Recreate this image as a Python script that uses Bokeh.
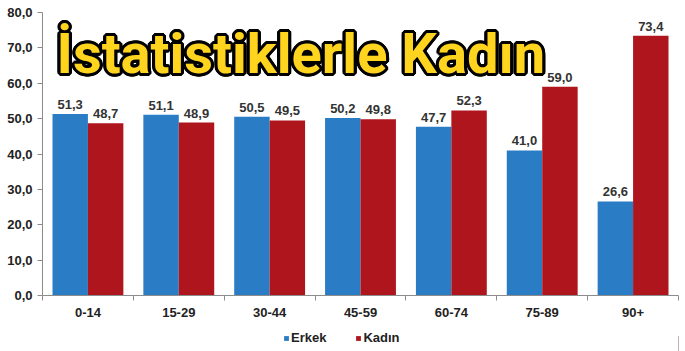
import numpy as np
from bokeh.plotting import figure
from bokeh.layouts import column
from bokeh.models import (ColumnDataSource, Range1d, FixedTicker, CustomJSTickFormatter,
                          Label, LabelSet, Legend, LegendItem)
from bokeh.core.properties import value
from bokeh.transform import dodge
from bokeh.embed import file_html
from bokeh.resources import INLINE

categories = ["0-14", "15-29", "30-44", "45-59", "60-74", "75-89", "90+"]
erkek = [51.3, 51.1, 50.5, 50.2, 47.7, 41.0, 26.6]
kadin = [48.7, 48.9, 49.5, 49.8, 52.3, 59.0, 73.4]
y_ticks = [0, 10, 20, 30, 40, 50, 60, 70, 80]
series_names = ["Erkek", "Kadın"]
title_text = "İstatistiklerle Kadın"

BLUE = "#2A7DC4"
RED = "#AF151C"

def fmt(v):
    return f"{v:.1f}".replace(".", ",")

xpos = np.arange(len(categories)) + 0.5
src = ColumnDataSource(dict(
    x=xpos, erkek=erkek, kadin=kadin,
    erkek_lbl=[fmt(v) for v in erkek], kadin_lbl=[fmt(v) for v in kadin],
))

p = figure(width=685, height=320, output_backend="svg", toolbar_location=None,
           x_range=Range1d(0, len(categories)), y_range=Range1d(0, 80),
           min_border_left=42, min_border_right=7, min_border_top=12, min_border_bottom=25)
p.outline_line_color = None
p.grid.visible = False
p.background_fill_color = "white"
p.border_fill_color = "white"

W = 0.39
rb = p.vbar(x=dodge("x", -W / 2), top="erkek", width=W, source=src, fill_color=BLUE, line_color=None)
rr = p.vbar(x=dodge("x", W / 2), top="kadin", width=W, source=src, fill_color=RED, line_color=None)

for col, ycol, off in (("erkek_lbl", "erkek", -W / 2), ("kadin_lbl", "kadin", W / 2)):
    ls = LabelSet(x=dodge("x", off), y=ycol, text=col, source=src, text_align="center",
                  text_baseline="bottom", y_offset=5, text_font=value("Liberation Sans"),
                  text_font_style="bold", text_font_size="13px", text_color="#333333")
    p.add_layout(ls)

# axes
xa = p.xaxis[0]
xa.ticker = FixedTicker(ticks=list(xpos), minor_ticks=list(range(len(categories) + 1)))
xa.major_label_overrides = {float(x): c for x, c in zip(xpos, categories)}
xa.major_tick_out = 0
xa.major_tick_in = 0
xa.minor_tick_out = 5
xa.minor_tick_in = 0
xa.axis_line_color = "#8c8c8c"
xa.minor_tick_line_color = "#8c8c8c"
xa.major_label_text_font = "Liberation Sans"
xa.major_label_text_font_style = "bold"
xa.major_label_text_font_size = "13px"
xa.major_label_text_color = "#222222"
xa.major_label_standoff = 7

ya = p.yaxis[0]
ya.ticker = FixedTicker(ticks=y_ticks, minor_ticks=[])
ya.formatter = CustomJSTickFormatter(code="return tick.toFixed(1).replace('.', ',');")
ya.major_tick_out = 5
ya.major_tick_in = 0
ya.minor_tick_out = 0
ya.axis_line_color = "#8c8c8c"
ya.major_tick_line_color = "#8c8c8c"
ya.major_label_text_font = "Liberation Sans"
ya.major_label_text_font_style = "bold"
ya.major_label_text_font_size = "13px"
ya.major_label_text_color = "#222222"
ya.major_label_standoff = 5

# title with black outline
tx, ty = 14, 209
TF = "Roboto"
TS = "56px"
for dx, dy in [(-3, 0), (3, 0), (0, -3), (0, 3), (-2, -2), (2, -2), (-2, 2), (2, 2),
               (-3, -1), (3, 1), (-1, 3), (1, -3), (-3, 1), (3, -1), (1, 3), (-1, -3)]:
    p.add_layout(Label(x=tx + dx, y=ty + dy, x_units="screen", y_units="screen", text=title_text,
                       text_font=TF, text_font_style="bold",
                       text_font_size=TS, text_color="black", text_baseline="bottom"))
p.add_layout(Label(x=tx, y=ty, x_units="screen", y_units="screen", text=title_text,
                   text_font=TF, text_font_style="bold",
                   text_font_size=TS, text_color="#FFD41E", text_baseline="bottom"))

# legend strip below the chart (its frame is aligned with the chart's frame)
p2 = figure(width=685, height=31, output_backend="svg", toolbar_location=None,
            x_range=Range1d(0, 1), y_range=Range1d(0, 1), min_border=0,
            x_axis_location=None, y_axis_location=None)
p2.outline_line_color = None
p2.grid.visible = False
p2.background_fill_alpha = 0
p2.border_fill_alpha = 0
dummy = ColumnDataSource(dict(x=[5.0], top=[0.5]))  # outside the visible range: legend swatches only
lb = p2.vbar(x="x", top="top", width=0.1, source=dummy, fill_color=BLUE, line_color=None)
lr = p2.vbar(x="x", top="top", width=0.1, source=dummy, fill_color=RED, line_color=None)
legend = Legend(items=[LegendItem(label=series_names[0], renderers=[lb]),
                       LegendItem(label=series_names[1], renderers=[lr])],
                location=(241, 6), orientation="horizontal",
                glyph_width=6, glyph_height=6, label_standoff=2, spacing=29,
                padding=0, margin=0, label_height=14,
                label_text_font="Liberation Sans", label_text_font_style="bold",
                label_text_font_size="13px", label_text_color="#222222",
                border_line_color=None, background_fill_alpha=0)
p2.add_layout(legend, "center")

layout = column(p, p2)
open("out.html", "w").write(file_html(layout, INLINE))
